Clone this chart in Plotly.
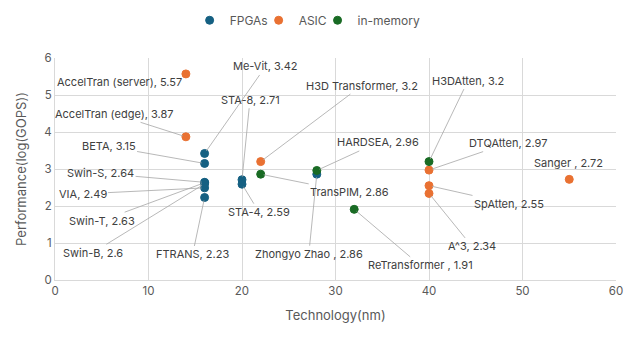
import plotly.graph_objects as go

# ---- data ----
fpga_names = ["Me-Vit", "BETA", "Swin-S", "VIA", "Swin-T", "Swin-B", "FTRANS",
              "STA-8", "STA-4", "Zhongyo Zhao "]
fpga_tech = [16, 16, 16, 16, 16, 16, 16, 20, 20, 28]
fpga_perf = [3.42, 3.15, 2.64, 2.49, 2.63, 2.6, 2.23, 2.71, 2.59, 2.86]

asic_names = ["AccelTran (server)", "AccelTran (edge)", "H3D Transformer",
              "DTQAtten", "SpAtten", "A^3", "Sanger "]
asic_tech = [14, 14, 22, 40, 40, 40, 55]
asic_perf = [5.57, 3.87, 3.2, 2.97, 2.55, 2.34, 2.72]

mem_names = ["TransPIM", "HARDSEA", "ReTransformer ", "H3DAtten"]
mem_tech = [22, 28, 32, 40]
mem_perf = [2.86, 2.96, 1.91, 3.2]

# label offsets (pixels) from point to label centre
offsets = {
    "Me-Vit": (61, -87), "BETA": (-96, -17), "Swin-S": (-104, -9),
    "VIA": (-122, 6), "Swin-T": (-103, 38), "Swin-B": (-112, 69),
    "FTRANS": (-12, 57), "STA-8": (8, -80), "STA-4": (17, 28),
    "Zhongyo Zhao ": (-8, 80),
    "AccelTran (server)": (-66, 8), "AccelTran (edge)": (-72, -23),
    "H3D Transformer": (101, -76), "DTQAtten": (79, -27),
    "SpAtten": (80, 18), "A^3": (43, 53), "Sanger ": (-1, -16),
    "TransPIM": (89, 18), "HARDSEA": (61, -28), "ReTransformer ": (66, 56),
    "H3DAtten": (39, -81),
}
no_line = {"AccelTran (server)", "Sanger "}

colors = {"FPGAs": "#156082", "ASIC": "#E97132", "in-memory": "#196B24"}
FONT = "Inter, Noto Sans, sans-serif"

fig = go.Figure()
series = [("FPGAs", fpga_names, fpga_tech, fpga_perf, "legend"),
          ("ASIC", asic_names, asic_tech, asic_perf, "legend2"),
          ("in-memory", mem_names, mem_tech, mem_perf, "legend3")]
annotations = []
for sname, names, xs, ys, lg in series:
    fig.add_trace(go.Scatter(
        x=xs, y=ys, mode="markers", name=sname, legend=lg,
        marker=dict(size=8, color=colors[sname],
                    line=dict(width=1, color=colors[sname])),
    ))
    for n, xv, yv in zip(names, xs, ys):
        ax, ay = offsets[n]
        annotations.append(dict(
            x=xv, y=yv, xref="x", yref="y", text=f"{n}, {yv:g}",
            showarrow=True, arrowhead=0, arrowwidth=0.8,
            arrowcolor="rgba(0,0,0,0)" if n in no_line else "#A6A6A6",
            ax=ax, ay=ay, standoff=3,
            font=dict(family=FONT, size=11, color="#404040"),
        ))

def leg(xp):
    return dict(orientation="h", x=xp, xanchor="left", y=1.17, yanchor="middle",
                font=dict(size=12, color="#595959"), itemwidth=30,
                itemsizing="trace", bgcolor="rgba(0,0,0,0)")

# page body has an 8px default margin, so margins are compensated
fig.update_layout(
    width=640, height=343,
    margin=dict(l=47, r=32, t=50, b=71, autoexpand=False),
    paper_bgcolor="white", plot_bgcolor="white",
    font=dict(family=FONT, color="#595959", size=11),
    showlegend=True,
    legend=leg(0.240), legend2=leg(0.363), legend3=leg(0.468),
    annotations=annotations,
    xaxis=dict(range=[0, 60], dtick=10, showgrid=True, gridcolor="#D9D9D9",
               zeroline=False, showline=True, linecolor="#D9D9D9", mirror=False,
               ticks="", tickfont=dict(size=11.5, color="#595959"), automargin=False,
               title=dict(text="Technology(nm)", font=dict(size=13, color="#595959"),
                          standoff=14)),
    yaxis=dict(range=[0, 6], dtick=1, showgrid=True, gridcolor="#D9D9D9",
               zeroline=False, showline=True, linecolor="#D9D9D9", automargin=False,
               ticks="", tickfont=dict(size=11.5, color="#595959"),
               title=dict(text="Performance(log(GOPS))", font=dict(size=13, color="#595959"),
                          standoff=14)),
)

fig.write_html("out.html")
